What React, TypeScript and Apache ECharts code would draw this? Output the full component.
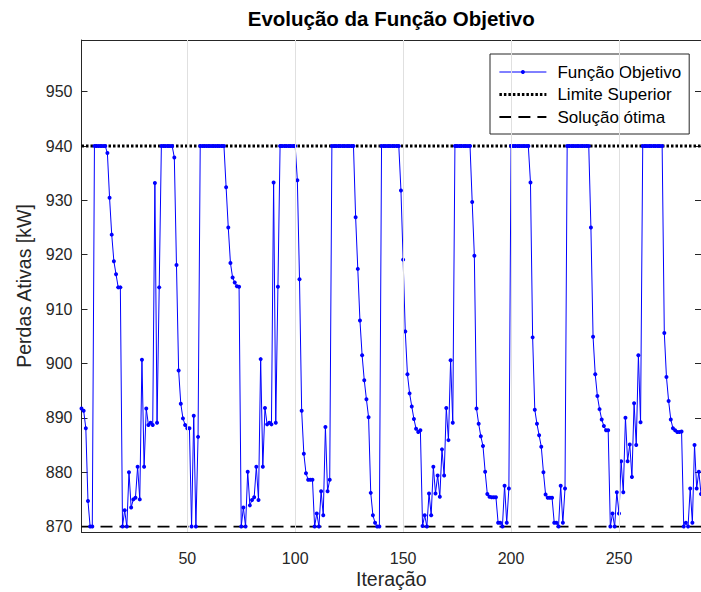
import React, { useEffect, useRef } from "react";
import * as echarts from "echarts";

// Objective-function value at each iteration (iteration = index + 1)
const objectiveValues: number[] = [
  891.7, 891.3, 888.1, 874.7, 870, 870,
  940, 940, 940, 940, 940, 940,
  938.7, 930.5, 923.7, 918.8, 916.4, 914.0, 914.0,
  870, 873, 870, 880, 873.5, 875, 875.3, 881, 875, 900.7, 881, 891.7, 888.7, 889.1, 888.7, 933.2, 889.1, 914,
  940, 940, 940, 940, 940, 940,
  937.9, 918.1, 898.7, 892.6, 889.9, 888.7, 888.1, 888.1,
  870, 890.4, 870, 886.5,
  940, 940, 940, 940, 940, 940, 940, 940, 940, 940, 940, 940,
  932.4, 925, 918.5, 915.8, 914.9, 914.2, 914.1,
  870, 873.5, 870, 880.1, 873.9, 874.9, 875.4, 881, 874.9, 900.8, 881, 891.8, 888.8, 889.1, 888.8, 933.3, 889.1, 914.1,
  940, 940, 940, 940, 940, 940, 940, 940,
  933.7, 915.5, 891.3, 883.4, 879.8, 878.6, 878.6, 878.6,
  870, 872.4, 870, 876.5, 872.1, 888.3, 876.5, 878.6,
  940, 940, 940, 940, 940, 940, 940, 940, 940, 940, 940,
  926.9, 917.4, 907.9, 901.5, 896.9, 893.4, 890.1, 876.2, 872.1, 870.7, 870, 870,
  940, 940, 940, 940, 940, 940, 940, 940, 940,
  931.8, 919.1, 905.9, 898, 894.5, 892.1, 889.8, 888, 887.4, 887.7,
  870.1, 872.1, 870, 876.1, 872.1, 881, 876.1, 879.4, 875.5, 884.2, 879.4, 891.8, 885.9, 900.6, 889.1,
  940, 940, 940, 940, 940, 940, 940, 940,
  929.7, 919.8, 891.7, 888.9, 886.6, 884.8, 880.1, 876, 875.5, 875.4, 875.4, 875.4,
  870.7, 870.7, 870, 877.5, 870.7, 877,
  940, 940, 940, 940, 940, 940, 940, 940, 940,
  933.3, 904.8, 891.5, 888.9, 886.8, 884.7, 880, 875.9, 875.3, 875.3, 875.3,
  870.7, 870.7, 870, 877.5, 870.7, 877,
  940, 940, 940, 940, 940, 940, 940, 940, 940, 940, 940,
  925, 904.9, 898, 894, 891.6, 889.7, 888.5, 887.7, 887.7,
  870, 872.4, 870, 876.3, 872.4, 882, 876.3, 890, 882, 885.1, 879.1, 892.7, 885, 901.5, 889.2,
  940, 940, 940, 940, 940, 940, 940, 940, 940, 940,
  905.6, 897.5, 893.1, 889.7, 888.1, 887.7, 887.4, 887.4, 887.5,
  870, 870.7, 870, 877, 870.7, 885, 877, 880.1, 876,
];

const upperLimit = 940;
const optimalValue = 870;
const xTickValues = [50, 100, 150, 200, 250];
const yTickValues = [870, 880, 890, 900, 910, 920, 930, 940, 950];
const xRange = [1, 288];
const yRange = [869, 959.5];
const seriesNames = ["Função Objetivo", "Limite Superior", "Solução ótima"];
const titleText = "Evolução da Função Objetivo";
const xAxisTitle = "Iteração";
const yAxisTitle = "Perdas Ativas [kW]";

export default function App() {
  const ref = useRef<HTMLDivElement>(null);

  useEffect(() => {
    document.body.style.margin = "0";
    const chart = echarts.init(ref.current!, undefined, { renderer: "svg" });
    const font = "'Liberation Sans', Arial, Helvetica, sans-serif";
    const axisColor = "#262626";
    const gridLeft = 81.5;
    const gridTop = 40;
    const gridWidth = 619.5;
    const gridHeight = 492;

    const blue = "#0000ff";
    const dottedStyle = { color: "#000000", width: 2.8, type: [2.5, 2] };
    const dashedStyle = { color: "#000000", width: 1.8, type: [12, 7] };

    const baseX = {
      type: "value",
      min: xRange[0],
      max: xRange[1],
      gridIndex: 0,
      splitLine: { show: false },
      axisLine: { show: true, onZero: false, lineStyle: { color: axisColor, width: 1 } },
      axisTick: { show: true, inside: true, length: 6, customValues: xTickValues, lineStyle: { color: axisColor } },
    };
    const baseY = {
      type: "value",
      min: yRange[0],
      max: yRange[1],
      gridIndex: 0,
      splitLine: { show: false },
      axisLine: { show: true, onZero: false, lineStyle: { color: axisColor, width: 1 } },
      axisTick: { show: true, inside: true, length: 6, customValues: yTickValues, lineStyle: { color: axisColor } },
    };

    const xy = (v: number, i: number) => [i + 1, v];

    chart.setOption({
      animation: false,
      backgroundColor: "#ffffff",
      textStyle: { fontFamily: font },
      grid: {
        left: gridLeft,
        top: gridTop,
        width: gridWidth,
        height: gridHeight,
        outerBoundsMode: "none",
        containLabel: false,
      },
      xAxis: [
        {
          ...baseX,
          position: "bottom",
          axisLabel: {
            show: true,
            customValues: xTickValues,
            margin: 18,
            fontSize: 16,
            color: axisColor,
            fontFamily: font,
          },
        },
        { ...baseX, position: "top", axisLabel: { show: false } },
      ],
      yAxis: [
        {
          ...baseY,
          position: "left",
          axisLabel: {
            show: true,
            customValues: yTickValues,
            margin: 9,
            fontSize: 16,
            color: axisColor,
            fontFamily: font,
          },
        },
        { ...baseY, position: "right", axisLabel: { show: false } },
      ],
      legend: {
        data: [
          { name: seriesNames[0], lineStyle: { color: blue, width: 1 }, itemStyle: { color: blue } },
          { name: seriesNames[1], lineStyle: dottedStyle, itemStyle: { color: "transparent", opacity: 0, borderWidth: 0 } },
          { name: seriesNames[2], lineStyle: dashedStyle, itemStyle: { color: "transparent", opacity: 0, borderWidth: 0 } },
        ],
        orient: "vertical",
        left: 490,
        top: 54,
        padding: [8, 8, 7, 8],
        itemWidth: 47,
        itemHeight: 5,
        itemGap: 2.5,
        backgroundColor: "#ffffff",
        borderColor: axisColor,
        borderWidth: 1,
        borderRadius: 0,
        textStyle: { fontSize: 17, color: "#000000", fontFamily: font, lineHeight: 20, padding: [0, 0, 0, 6] },
      },
      graphic: [
        {
          type: "text",
          x: gridLeft + gridWidth / 2,
          y: 18,
          style: {
            text: titleText,
            font: `bold 20.5px ${font}`,
            fill: "#000000",
            textAlign: "center",
            textVerticalAlign: "middle",
          },
        },
        {
          type: "text",
          x: gridLeft + gridWidth / 2,
          y: 579,
          style: {
            text: xAxisTitle,
            font: `19.5px ${font}`,
            fill: axisColor,
            textAlign: "center",
            textVerticalAlign: "middle",
          },
        },
        {
          type: "text",
          x: 24,
          y: gridTop + gridHeight / 2,
          rotation: Math.PI / 2,
          style: {
            text: yAxisTitle,
            font: `19.5px ${font}`,
            fill: axisColor,
            textAlign: "center",
            textVerticalAlign: "middle",
          },
        },
      ],
      series: [
        {
          name: "grid",
          type: "line",
          data: [],
          z: 0,
          silent: true,
          markLine: {
            silent: true,
            symbol: ["none", "none"],
            label: { show: false },
            lineStyle: { color: "#e0e0e0", width: 1, type: "solid" },
            data: xTickValues.map((x) => ({ xAxis: x })),
          },
        },
        {
          name: seriesNames[1],
          type: "line",
          data: [
            [xRange[0], upperLimit],
            [xRange[1], upperLimit],
          ],
          symbol: "none",
          z: 2,
          lineStyle: dottedStyle,
          itemStyle: { color: "#000000" },
        },
        {
          name: seriesNames[2],
          type: "line",
          data: [
            [xRange[0], optimalValue],
            [xRange[1], optimalValue],
          ],
          symbol: "none",
          z: 2,
          lineStyle: dashedStyle,
          itemStyle: { color: "#000000" },
        },
        {
          name: seriesNames[0],
          type: "line",
          data: objectiveValues.map(xy),
          symbol: "circle",
          symbolSize: 4,
          z: 3,
          lineStyle: { color: blue, width: 1 },
          itemStyle: { color: blue },
        },
      ],
    });
    return () => chart.dispose();
  }, []);

  return <div ref={ref} style={{ width: 701, height: 592 }} />;
}
